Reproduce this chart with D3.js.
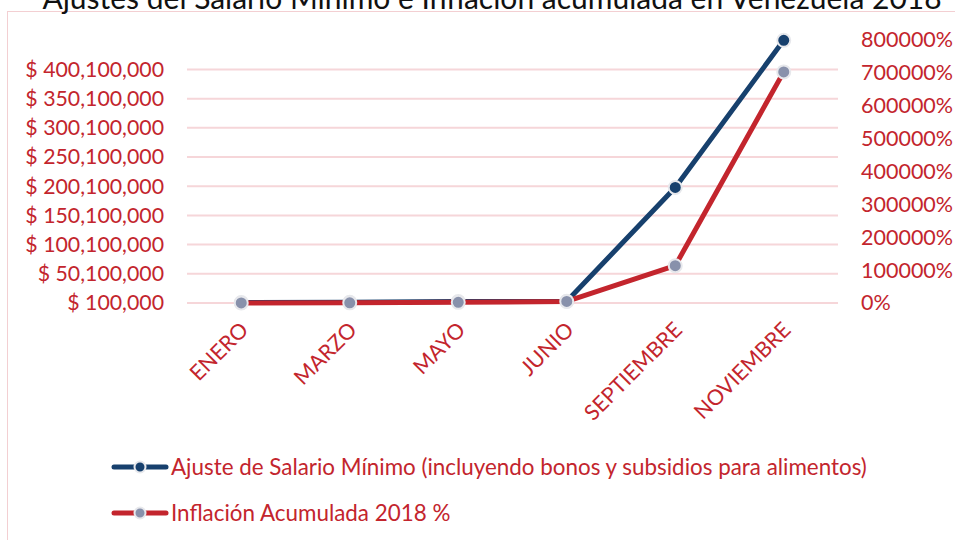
<!DOCTYPE html>
<html>
<head>
<meta charset="utf-8">
<script src="https://cdn.jsdelivr.net/npm/d3@7"></script>
<style>
  body { margin: 0; background: white; }
  svg { display: block; font-family: Lato, "Open Sans", sans-serif; }
</style>
</head>
<body>
<script>
var months = ["ENERO", "MARZO", "MAYO", "JUNIO", "SEPTIEMBRE", "NOVIEMBRE"]
var salario = [797510, 1307646, 2555500, 3000000, 198000000, 450000000]
var inflacion = [84, 454, 2000, 4700, 113500, 703000]
var salarioTicks = [100000, 50100000, 100100000, 150100000, 200100000, 250100000, 300100000, 350100000, 400100000]
var inflacionTicks = [0, 100000, 200000, 300000, 400000, 500000, 600000, 700000, 800000]

var width = 955
var height = 540
var red = "#c3252d"
var navy = "#17406d"
var pink = "#f6d6d9"

var svg = d3.select("body").append("svg")
   .attr("width", width)
   .attr("height", height)

// chart border
svg.append("rect")
   .attr("x", 7.5).attr("y", 11.5)
   .attr("width", 960).attr("height", 540)
   .style("fill", "none")
   .style("stroke", "#f3cfd2")

// title (cut off at the top, as in the original)
svg.append("text")
   .attr("x", 492).attr("y", 9)
   .attr("text-anchor", "middle")
   .style("font-size", "30px")
   .style("fill", "#111")
   .text("Ajustes del Salario Mínimo e Inflación acumulada en Venezuela 2018")

var x = d3.scalePoint().domain(months).range([187, 838]).padding(0.5)
var yL = d3.scaleLinear().domain([100000, 450100000]).range([303, 40.25])
var yR = d3.scaleLinear().domain([0, 800000]).range([303, 40])

// gridlines
svg.append("g").selectAll("line")
   .data(salarioTicks)
   .enter().append("line")
   .attr("x1", 187).attr("x2", 838)
   .attr("y1", function (d) { return yL(d); })
   .attr("y2", function (d) { return yL(d); })
   .style("stroke", pink)
   .style("stroke-width", 2)

// left axis
var fmt = d3.format(",")
var left = svg.append("g")
   .attr("transform", "translate(164,0)")
   .call(d3.axisLeft(yL).tickValues(salarioTicks).tickSize(0).tickPadding(0)
      .tickFormat(function (d) { return "$ " + fmt(d); }))
left.select(".domain").remove()
left.selectAll("text").style("font-size", "21.3px").style("fill", red).style("font-family", "Lato")

// right axis
var right = svg.append("g")
   .attr("transform", "translate(861,0)")
   .call(d3.axisRight(yR).tickValues(inflacionTicks).tickSize(0).tickPadding(0)
      .tickFormat(function (d) { return d + "%"; }))
right.select(".domain").remove()
right.selectAll("text").style("font-size", "21.5px").style("fill", red).style("font-family", "Lato")

// x labels
svg.append("g").selectAll("text")
   .data(months)
   .enter().append("text")
   .attr("transform", function (d) { return "translate(" + (x(d) + 3) + ",326) rotate(-45)"; })
   .attr("text-anchor", "end")
   .attr("dy", "0.35em")
   .style("font-size", "21.5px")
   .style("fill", red)
   .text(function (d) { return d; })

function drawSeries(values, y, color, markerFill) {
   var line = d3.line()
      .x(function (d, i) { return x(months[i]); })
      .y(function (d) { return y(d); })
   svg.append("path")
      .datum(values)
      .attr("d", line)
      .style("fill", "none")
      .style("stroke", color)
      .style("stroke-width", 5)
      .style("stroke-linejoin", "round")
   svg.append("g").selectAll("circle")
      .data(values)
      .enter().append("circle")
      .attr("cx", function (d, i) { return x(months[i]); })
      .attr("cy", function (d) { return y(d); })
      .attr("r", 6.5)
      .style("fill", markerFill)
      .style("stroke", "#e7e8ec")
      .style("stroke-width", 2)
}

drawSeries(salario, yL, navy, navy)
drawSeries(inflacion, yR, red, "#8891ab")

// legend
var legend = [
   { name: "Ajuste de Salario Mínimo (incluyendo bonos y subsidios para alimentos)", color: navy, fill: navy, y: 467 },
   { name: "Inflación Acumulada 2018 %", color: red, fill: "#8891ab", y: 513 }
]
var lg = svg.append("g").selectAll("g")
   .data(legend)
   .enter().append("g")
lg.append("line")
   .attr("x1", 114).attr("x2", 166)
   .attr("y1", function (d) { return d.y; })
   .attr("y2", function (d) { return d.y; })
   .style("stroke", function (d) { return d.color; })
   .style("stroke-width", 5)
   .style("stroke-linecap", "round")
lg.append("circle")
   .attr("cx", 140)
   .attr("cy", function (d) { return d.y; })
   .attr("r", 5.5)
   .style("fill", function (d) { return d.fill; })
   .style("stroke", "#e7e8ec")
   .style("stroke-width", 2)
lg.append("text")
   .attr("x", 171)
   .attr("y", function (d) { return d.y; })
   .attr("dy", "0.35em")
   .style("font-size", "22.4px")
   .style("fill", red)
   .text(function (d) { return d.name; })
</script>
</body>
</html>
